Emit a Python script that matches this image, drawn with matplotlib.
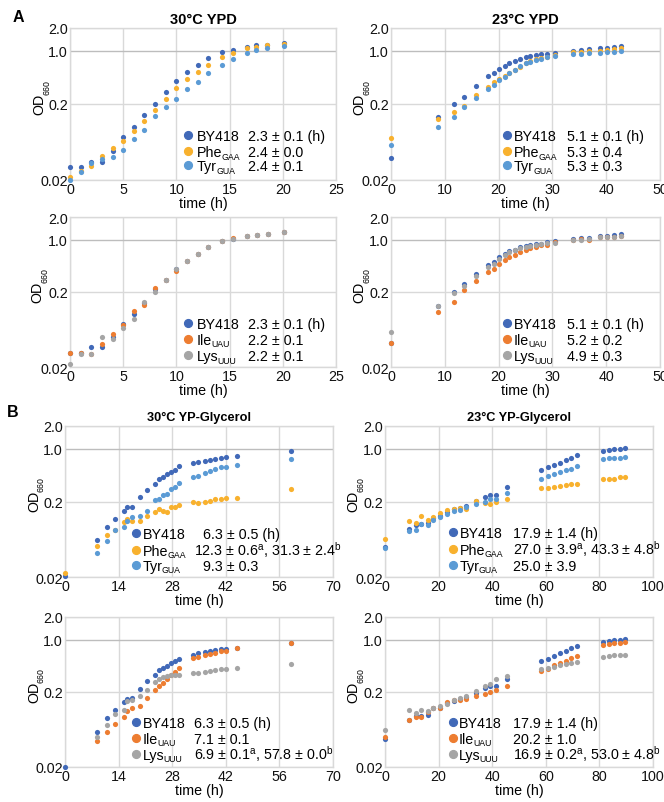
import numpy as np
import matplotlib
matplotlib.use('Agg')
import matplotlib.pyplot as plt
from matplotlib.lines import Line2D

plt.rcParams['font.family'] = ['Liberation Sans', 'DejaVu Sans']
plt.rcParams['mathtext.fontset'] = 'custom'
plt.rcParams['mathtext.rm'] = 'Liberation Sans'
plt.rcParams['mathtext.it'] = 'Liberation Sans:italic'
plt.rcParams['mathtext.bf'] = 'Liberation Sans:bold'

nan = np.nan

# ---------------- data ----------------
# A: 30C YPD
tA1 = [0, 1, 2, 3, 4, 5, 6, 7, 8, 9, 10, 11, 12, 13, 14.3, 15.3, 16.6, 17.5, 18.5, 20.1]
BY418_A1 = [0.030, 0.030, 0.035, 0.035, 0.0475, 0.073, 0.099, 0.142, 0.20, 0.288, 0.397, 0.531,
            0.643, 0.794, 0.97, 1.04, 1.12, 1.19, 1.21, 1.27]
Phe_A1 = [0.0222, 0.0263, 0.0307, 0.0414, 0.0527, 0.065, 0.0895, 0.12, 0.168, 0.234, 0.322, 0.423,
          0.527, 0.644, 0.827, 0.94, 1.09, 1.14, 1.21, 1.25]
Tyr_A1 = [0.0202, 0.0255, 0.0334, 0.038, 0.040, 0.0501, 0.0684, 0.0915, 0.140, 0.182, 0.234, 0.317,
          0.395, 0.516, 0.656, 0.771, 0.932, 1.03, 1.10, 1.16]

# A: 23C YPD
tA2 = [0, 8.7, 11.7, 13.6, 15.8, 18.1, 19.1, 20.1, 21.1, 22.0, 23.0, 24.0, 25.0, 25.9, 26.9,
       27.9, 29.0, 30.4, 33.9, 35.3, 36.8, 38.8, 40.1, 41.4, 42.8]
BY418_A2 = [0.039, 0.133, 0.20, 0.251, 0.346, 0.463, 0.506, 0.571, 0.637, 0.697, 0.741, 0.778,
            0.819, 0.86, 0.887, 0.905, 0.923, 0.951, 1.0, 1.03, 1.05, 1.08, 1.10, 1.13, 1.16]
Phe_A2 = [0.0705, 0.126, 0.155, 0.186, 0.264, 0.339, 0.39, 0.43, 0.467, 0.511, 0.565, 0.618,
          0.684, 0.733, 0.779, 0.81, 0.835, 0.878, 0.961, 0.98, 0.99, 1.01, 1.04, 1.07, 1.105]
Tyr_A2 = [0.0577, 0.101, 0.135, 0.184, 0.237, 0.313, 0.36, 0.41, 0.458, 0.51, 0.565, 0.625,
          0.684, 0.72, 0.76, 0.79, 0.82, 0.85, 0.90, 0.92, 0.94, 0.95, 0.96, 0.97, 0.99]

# A: 30C YPD (Ile / Lys)
tA3 = [0, 1, 2, 3, 4, 5, 6, 7, 8, 9, 10, 11, 12, 13, 14.3, 15.3, 16.6, 17.6, 18.6, 20.1]
BY418_A3 = [0.031, 0.031, 0.0365, 0.0365, 0.0502, 0.0748, 0.101, 0.144, 0.218, 0.289, 0.406,
            0.522, 0.644, 0.787, 0.97, 1.03, 1.12, 1.16, 1.20, 1.26]
Ile_A3 = [0.031, 0.031, 0.0295, 0.0405, 0.0555, 0.072, 0.110, 0.135, 0.225, 0.289, 0.386,
          0.522, 0.644, 0.787, 0.97, 1.04, 1.12, 1.16, 1.20, 1.28]
Lys_A3 = [0.0216, 0.030, 0.0295, 0.0496, 0.0472, 0.066, 0.088, 0.145, 0.202, 0.289, 0.402,
          0.522, 0.644, 0.787, 0.97, 1.03, 1.12, 1.16, 1.20, 1.26]

# A: 23C YPD (Ile / Lys)
tA4 = tA2
BY418_A4 = [0.0414, 0.131, 0.202, 0.259, 0.343, 0.462, 0.506, 0.582, 0.650, 0.712, 0.733, 0.787,
            0.827, 0.844, 0.861, 0.878, 0.923, 0.961, 1.02, 1.04, 1.06, 1.12, 1.12, 1.14, 1.17]
Ile_A4 = [0.0414, 0.108, 0.149, 0.211, 0.278, 0.368, 0.410, 0.467, 0.527, 0.577, 0.618, 0.690,
          0.733, 0.770, 0.802, 0.835, 0.853, 0.932, 0.99, 1.02, 1.0, 1.07, 1.08, 1.08, 1.13]
Lys_A4 = [0.0593, 0.131, 0.192, 0.244, 0.326, 0.436, 0.477, 0.549, 0.618, 0.677, 0.719, 0.763,
          0.802, 0.827, 0.844, 0.861, 0.887, 0.914, 0.99, 1.0, 1.03, 1.07, 1.09, 1.09, 1.13]

# B: 30C YP-Glycerol
tB1 = [0, 8.4, 11.1, 13.0, 15.3, 16.3, 17.6, 19.5, 21.5, 23.5, 24.5, 25.6, 26.6, 27.6, 28.7,
       29.7, 33.4, 34.7, 36.5, 38.0, 39.3, 40.7, 42.1, 44.9, 59.1]
BY418_B1 = [0.0206, 0.0612, 0.091, 0.119, 0.148, 0.168, 0.168, 0.227, 0.283, 0.346, 0.395, 0.42,
            0.458, 0.496, 0.527, 0.582, 0.644, 0.677, 0.69, 0.712, 0.733, 0.755, 0.77, 0.794, 0.923]
Phe_B1 = [0.0227, 0.0516, 0.071, 0.085, 0.106, 0.116, 0.109, 0.109, 0.127, 0.147, 0.16, 0.150,
          0.147, 0.168, 0.168, 0.180, 0.195, 0.19, 0.20, 0.205, 0.213, 0.213, 0.225, 0.22, 0.295]
Tyr_B1 = [nan, 0.041, 0.060, 0.085, 0.093, 0.112, 0.123, 0.130, 0.150, 0.209, 0.213, 0.244,
          0.253, 0.292, 0.316, 0.353, 0.423, 0.431, 0.472, 0.511, 0.543, 0.571, 0.577, 0.612, 0.74]

# B: 23C YP-Glycerol
tB2 = [0, 8.8, 11.6, 13.6, 15.9, 18.0, 20.6, 23.3, 25.7, 27.8, 30.3, 34.0, 37.2, 39.0, 41.5,
       45.6, 58.2, 60.8, 63.1, 65.4, 67.5, 69.4, 71.5, 81.4, 83.6, 85.5, 87.5, 89.7]
BY418_B2 = [0.0496, 0.086, 0.099, 0.101, 0.104, 0.121, 0.127, 0.147, 0.16, 0.162, 0.177, 0.202,
            0.229, 0.246, 0.246, 0.307, 0.516, 0.565, 0.618, 0.656, 0.705, 0.748, 0.835, 0.932,
            0.97, 0.99, 0.99, 1.01]
Phe_B2 = [0.0645, 0.109, 0.105, 0.128, 0.115, 0.123, 0.142, 0.153, 0.16, 0.165, 0.16, 0.202,
          0.192, 0.188, 0.20, 0.213, 0.30, 0.30, 0.313, 0.319, 0.33, 0.343, 0.339, 0.395, 0.402,
          0.402, 0.423, 0.42]
Tyr_B2 = [0.049, 0.081, 0.085, 0.102, 0.099, 0.115, 0.124, 0.138, 0.15, 0.155, 0.168, 0.188,
          0.195, 0.216, 0.216, 0.256, 0.395, 0.436, 0.467, 0.49, 0.516, 0.543, 0.582, 0.726,
          0.748, 0.755, 0.763, 0.787]

# B: 30C YP-Glycerol (Ile / Lys)
tB3 = tB1
BY418_B3 = [0.020, 0.058, 0.09, 0.114, 0.145, 0.162, 0.167, 0.216, 0.28, 0.333, 0.395, 0.414,
            0.444, 0.487, 0.511, 0.554, 0.631, 0.664, 0.69, 0.705, 0.719, 0.748, 0.748, 0.778, 0.896]
Ile_B3 = [nan, 0.0445, 0.0587, 0.0755, 0.094, 0.113, 0.121, 0.132, 0.167, 0.213, 0.244, 0.264,
          0.30, 0.333, 0.368, 0.414, 0.56, 0.589, 0.618, 0.637, 0.664, 0.697, 0.712, 0.763, 0.905]
Lys_B3 = [nan, 0.050, 0.073, 0.103, 0.116, 0.151, 0.157, 0.179, 0.211, 0.27, 0.298, 0.316,
          0.329, 0.333, 0.336, 0.333, 0.36, 0.357, 0.371, 0.386, 0.39, 0.402, 0.402, 0.42, 0.467]

# B: 23C YP-Glycerol (Ile / Lys)
tB4 = tB2
BY418_B4 = [0.0476, 0.0835, 0.097, 0.097, 0.098, 0.121, 0.123, 0.142, 0.152, 0.162, 0.171, 0.193,
            0.227, 0.239, 0.244, 0.30, 0.511, 0.554, 0.606, 0.657, 0.712, 0.763, 0.819, 0.932,
            0.961, 0.98, 0.99, 1.01]
Ile_B4 = [0.051, 0.0835, 0.094, 0.094, 0.107, 0.121, 0.123, 0.145, 0.155, 0.158, 0.162, 0.175,
          0.19, 0.198, 0.211, 0.244, 0.382, 0.41, 0.458, 0.49, 0.522, 0.571, 0.612, 0.835, 0.878,
          0.896, 0.914, 0.932]
Lys_B4 = [0.0632, 0.116, 0.105, 0.116, 0.112, 0.121, 0.131, 0.138, 0.155, 0.168, 0.177, 0.206,
          0.242, 0.257, 0.30, 0.329, 0.41, 0.418, 0.436, 0.458, 0.477, 0.49, 0.506, 0.594, 0.606,
          0.618, 0.631, 0.631]

# labels (name, subscript)
strain_PheTyr = [('BY418', ''), ('Phe', 'GAA'), ('Tyr', 'GUA')]
strain_IleLys = [('BY418', ''), ('Ile', 'UAU'), ('Lys', 'UUU')]
rates_A1 = ['2.3 ± 0.1 (h)', '2.4 ± 0.0', '2.4 ± 0.1']
rates_A2 = ['5.1 ± 0.1 (h)', '5.3 ± 0.4', '5.3 ± 0.3']
rates_A3 = ['2.3 ± 0.1 (h)', '2.2 ± 0.1', '2.2 ± 0.1']
rates_A4 = ['5.1 ± 0.1 (h)', '5.2 ± 0.2', '4.9 ± 0.3']
rates_B1 = ['6.3 ± 0.5 (h)', '12.3 ± 0.6$^{\\mathrm{a}}$, 31.3 ± 2.4$^{\\mathrm{b}}$', '9.3 ± 0.3']
rates_B2 = ['17.9 ± 1.4 (h)', '27.0 ± 3.9$^{\\mathrm{a}}$, 43.3 ± 4.8$^{\\mathrm{b}}$', '25.0 ± 3.9']
rates_B3 = ['6.3 ± 0.5 (h)', '7.1 ± 0.1', '6.9 ± 0.1$^{\\mathrm{a}}$, 57.8 ± 0.0$^{\\mathrm{b}}$']
rates_B4 = ['17.9 ± 1.4 (h)', '20.2 ± 1.0', '16.9 ± 0.2$^{\\mathrm{a}}$, 53.0 ± 4.8$^{\\mathrm{b}}$']

yticks = [0.02, 0.2, 1.0, 2.0]
yticklabels = ['0.02', '0.2', '1.0', '2.0']

C_BY = '#4169B8'
C_PHE = '#F8B12E'
C_TYR = '#5B9BD5'
C_ILE = '#ED7D31'
C_LYS = '#A5A5A5'

# ---------------- layout ----------------
W, H = 664, 803
fig = plt.figure(figsize=(W / 100, H / 100), dpi=100)
renderer = fig.canvas.get_renderer()


def fx(x):
    return x / W


def fy(y):
    return 1 - y / H


panels = [
    dict(rect=(70, 29, 336, 181), xmax=25, xstep=5, t=tA1,
         series=[BY418_A1, Phe_A1, Tyr_A1], colors=[C_BY, C_PHE, C_TYR],
         names=strain_PheTyr, rates=rates_A1, title='30°C YPD', tsize=10.5,
         leg=(188, 197, [248, 248, 248], [136, 152, 166]), ylab=37),
    dict(rect=(391, 29, 660, 181), xmax=50, xstep=10, t=tA2,
         series=[BY418_A2, Phe_A2, Tyr_A2], colors=[C_BY, C_PHE, C_TYR],
         names=strain_PheTyr, rates=rates_A2, title='23°C YPD', tsize=10.5,
         leg=(507, 514, [567, 567, 567], [136, 152, 166]), ylab=357),
    dict(rect=(70, 218, 336, 368), xmax=25, xstep=5, t=tA3,
         series=[BY418_A3, Ile_A3, Lys_A3], colors=[C_BY, C_ILE, C_LYS],
         names=strain_IleLys, rates=rates_A3, title=None, tsize=10.5,
         leg=(188, 197, [248, 248, 248], [324, 340, 356]), ylab=35),
    dict(rect=(391, 218, 660, 368), xmax=50, xstep=10, t=tA4,
         series=[BY418_A4, Ile_A4, Lys_A4], colors=[C_BY, C_ILE, C_LYS],
         names=strain_IleLys, rates=rates_A4, title=None, tsize=10.5,
         leg=(507, 514, [567, 567, 567], [324, 340, 356]), ylab=357),
    dict(rect=(65, 427, 333, 578), xmax=70, xstep=14, t=tB1,
         series=[BY418_B1, Phe_B1, Tyr_B1], colors=[C_BY, C_PHE, C_TYR],
         names=strain_PheTyr, rates=rates_B1, title='30°C YP-Glycerol', tsize=9.2,
         leg=(136, 143, [203, 194, 203], [534, 551, 566]), ylab=32),
    dict(rect=(385, 427, 653, 578), xmax=100, xstep=20, t=tB2,
         series=[BY418_B2, Phe_B2, Tyr_B2], colors=[C_BY, C_PHE, C_TYR],
         names=strain_PheTyr, rates=rates_B2, title='23°C YP-Glycerol', tsize=9.2,
         leg=(453, 460, [513, 513, 513], [533, 550, 566]), ylab=351),
    dict(rect=(65, 618, 333, 768), xmax=70, xstep=14, t=tB3,
         series=[BY418_B3, Ile_B3, Lys_B3], colors=[C_BY, C_ILE, C_LYS],
         names=strain_IleLys, rates=rates_B3, title=None, tsize=9.2,
         leg=(136, 143, [194, 194, 194], [723, 739, 755]), ylab=32),
    dict(rect=(385, 618, 653, 768), xmax=100, xstep=20, t=tB4,
         series=[BY418_B4, Ile_B4, Lys_B4], colors=[C_BY, C_ILE, C_LYS],
         names=strain_IleLys, rates=rates_B4, title=None, tsize=9.2,
         leg=(453, 459, [513, 513, 513], [723, 739, 755]), ylab=351),
]

FS = 10.3
SUB = 6.3
GRID = '#D9D9D9'

for p in panels:
    l, t, r, b = p['rect']
    ax = fig.add_axes([fx(l), fy(b), (r - l) / W, (b - t) / H])
    ax.set_yscale('log')
    ax.set_ylim(0.02, 2.0)
    ax.set_xlim(0, p['xmax'])
    ax.set_yticks(yticks)
    ax.set_yticklabels(yticklabels)
    ax.yaxis.set_minor_locator(matplotlib.ticker.NullLocator())
    xt = np.arange(0, p['xmax'] + 0.01, p['xstep'])
    ax.set_xticks(xt)
    ax.set_xticklabels([str(int(v)) for v in xt])
    ax.tick_params(length=0, labelsize=FS, pad=1.5, colors='#111111')
    ax.grid(True, axis='both', color=GRID, linewidth=1.0, zorder=0)
    for gl, v in zip(ax.get_ygridlines(), yticks):
        if v == 1.0:
            gl.set_color('#BDBDBD')
    for s in ax.spines.values():
        s.set_color(GRID)
        s.set_linewidth(1.0)
    ax.set_axisbelow(True)
    for vals, c in zip(p['series'], p['colors']):
        ax.scatter(p['t'], vals, s=14, color=c, linewidths=0, zorder=3, clip_on=False)

    # axis labels
    fig.text(fx((l + r) / 2), fy(b + 23), 'time (h)', ha='center', va='center', fontsize=FS)
    ybot = (t + b) / 2 + 10
    yl = fig.text(fx(p['ylab'] + 2), fy(ybot), 'OD', ha='center', va='bottom',
                  rotation=90, fontsize=FS)
    ylw = yl.get_window_extent(renderer)
    fig.text(fx(p['ylab'] + 5), fy(ybot - ylw.height + 1), '660', ha='left',
             va='bottom', rotation=90, fontsize=SUB)
    if p['title']:
        fig.text(fx((l + r) / 2), fy(t - 9), p['title'], ha='center', va='center',
                 fontsize=p['tsize'], fontweight='bold')

    # legend
    mx, lx, vxs, rows = p['leg']
    for (name, sub), rate, c, vx, ry in zip(p['names'], p['rates'], p['colors'], vxs, rows):
        fig.add_artist(Line2D([fx(mx)], [fy(ry)], marker='o', markersize=5.6, color=c,
                              linestyle='none', transform=fig.transFigure))
        tn = fig.text(fx(lx), fy(ry + 4.7), name, ha='left', va='baseline', fontsize=FS)
        if sub:
            wb = tn.get_window_extent(renderer)
            fig.text((wb.x1 - 1.0) / W, fy(ry + 7.5), sub, ha='left',
                     va='baseline', fontsize=SUB)
        fig.text(fx(vx), fy(ry + 4.7), rate, ha='left', va='baseline', fontsize=FS)

fig.text(fx(18), fy(18), 'A', ha='center', va='center', fontsize=11.5, fontweight='bold')
fig.text(fx(13), fy(413), 'B', ha='center', va='center', fontsize=11.5, fontweight='bold')

fig.savefig('out.png', dpi=100)
